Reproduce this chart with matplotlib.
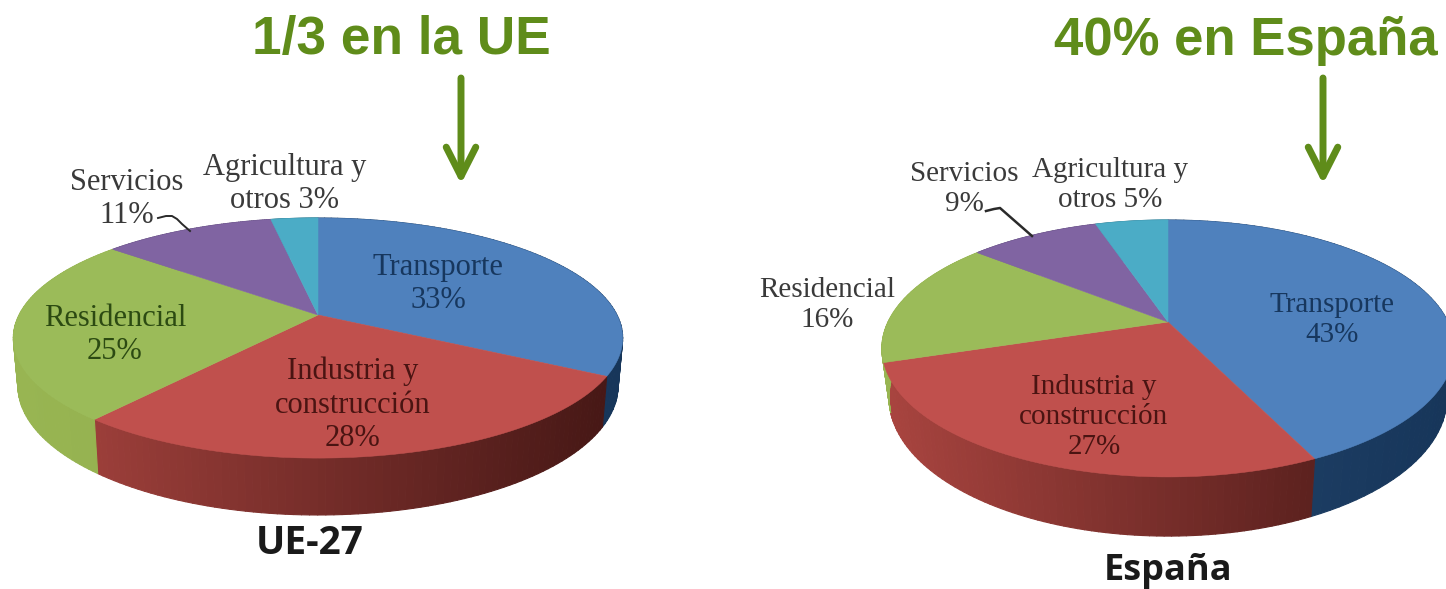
import numpy as np
import matplotlib
matplotlib.use("Agg")
import matplotlib.pyplot as plt
from matplotlib.collections import PolyCollection
from matplotlib.colors import to_rgb

# data
sectors = ['Transporte', 'Industria y construcción', 'Residencial', 'Servicios', 'Agricultura y otros']
ue_values = [33, 28, 25, 11, 3]
es_values = [43, 27, 16, 9, 5]

top_colors = ['#4f81bd', '#c0504d', '#9bbb59', '#8064a2', '#4bacc6']
# wall colour at the left and right of the pie
wall_colors = [('#2a4f7c', '#17365a'), ('#a8443f', '#451715'), ('#98b552', '#86a446'),
               ('#5f4a7c', '#5f4a7c'), ('#38849a', '#38849a')]
GREEN = '#5f8c1a'

fig = plt.figure(figsize=(14.46, 5.89), dpi=100)
ax = fig.add_axes([0, 0, 1, 1])
ax.set_xlim(0, 1446)
ax.set_ylim(589, 0)
ax.axis('off')


# circle angle -> picture position, with the far edge squeezed like in the 3d pie
def project(theta, cx, cy, bx, ay, k, drop=0.0, shrink=1.0):
    s, c = np.sin(theta), np.cos(theta)
    d = 1 + k * c
    return cx + bx * shrink * s / d, cy - ay * c / d + drop / d


def draw_pie(values, cx, cy, bx, ay, k, depth, shrink):
    edges = np.cumsum([0] + list(values)) / sum(values) * 2 * np.pi
    xmin, xmax = cx - bx, cx + bx

    # side wall first, top face goes over it
    for i in range(len(values)):
        th = np.linspace(edges[i], edges[i + 1], 80)
        x1, y1 = project(th, cx, cy, bx, ay, k)
        x2, y2 = project(th, cx, cy, bx, ay, k, depth, shrink)
        polys, cols = [], []
        left, right = np.array(to_rgb(wall_colors[i][0])), np.array(to_rgb(wall_colors[i][1]))
        for j in range(len(th) - 1):
            polys.append([(x1[j], y1[j]), (x1[j + 1], y1[j + 1]), (x2[j + 1], y2[j + 1]), (x2[j], y2[j])])
            t = np.clip((x1[j] - xmin) / (xmax - xmin), 0, 1)
            cols.append(left + (right - left) * t)
        ax.add_collection(PolyCollection(polys, facecolors=cols, edgecolors=cols, linewidths=0.8))

    for i in range(len(values)):
        th = np.linspace(edges[i], edges[i + 1], 120)
        x, y = project(th, cx, cy, bx, ay, k)
        ax.fill(np.r_[cx, x], np.r_[cy, y], facecolor=top_colors[i], edgecolor=top_colors[i], linewidth=0.4)


draw_pie(ue_values, 318, 315, 299, 115.6, 0.192, 46, 0.985)
draw_pie(es_values, 1168, 322, 280, 123, 0.206, 47, 0.975)

serif = 'Liberation Serif'


def pie_label(x, y, txt, size, color='#3a3a3a'):
    ax.text(x, y + 3, txt, ha='center', va='center', family=serif, fontsize=size,
            color=color, linespacing=1.2)


# left pie labels
pie_label(438, 281, 'Transporte\n%d%%' % ue_values[0], 22, '#17375e')
pie_label(353, 402, 'Industria y\nconstrucción\n%d%%' % ue_values[1], 22, '#4a1412')
pie_label(115, 332, 'Residencial\n%d%%' % ue_values[2], 22, '#2c4a12')
pie_label(127, 196, 'Servicios\n%d%%' % ue_values[3], 22)
pie_label(285, 181, 'Agricultura y\notros %d%%' % ue_values[4], 22)

# right pie labels
pie_label(1332, 317, 'Transporte\n%d%%' % es_values[0], 21, '#17375e')
pie_label(1094, 414, 'Industria y\nconstrucción\n%d%%' % es_values[1], 21, '#4a1412')
pie_label(827, 302, 'Residencial\n%d%%' % es_values[2], 21)
pie_label(964, 186, 'Servicios\n%d%%' % es_values[3], 21)
pie_label(1110, 182, 'Agricultura y\notros %d%%' % es_values[4], 21)

# leader lines
ax.plot([158, 166, 172, 177, 182, 190], [218, 216, 216, 219, 224, 231], color='#2a2a2a', lw=1.4)
ax.plot([986, 994, 1000, 1032], [211, 209, 208, 236], color='#2a2a2a', lw=1.8)

# headings and arrows
ax.text(401, 40, '1/3 en la UE', ha='center', va='center', family='Liberation Sans',
        fontweight='bold', fontsize=38.3, color=GREEN)
ax.text(1246, 41, '40% en España', ha='center', va='center', family='Liberation Sans',
        fontweight='bold', fontsize=38, color=GREEN)
for ax_x in [461, 1323]:
    ax.annotate('', xy=(ax_x, 184), xytext=(ax_x, 78),
                arrowprops=dict(arrowstyle='->,head_length=0.75,head_width=0.38', color=GREEN,
                                lw=5, shrinkA=0, shrinkB=0, mutation_scale=28))

ax.text(310, 543, 'UE-27', ha='center', va='center', family='Open Sans', fontweight='bold',
        fontsize=28, color='#1a1a1a')
ax.text(1168, 571, 'España', ha='center', va='center', family='Open Sans', fontweight='bold',
        fontsize=26, color='#1a1a1a')

fig.savefig('out.png', dpi=100)
